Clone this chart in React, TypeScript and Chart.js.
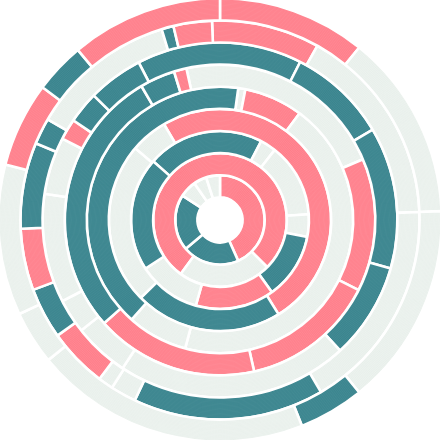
import React, { useEffect, useRef } from "react";
import { Chart, registerables } from "chart.js";

Chart.register(...registerables);

// Colour keys: P = pink, T = teal, L = light (remainder)
const BASE: Record<string, string> = {
  P: "#ff7b87",
  T: "#38838d",
  L: "#e7efea",
};
const STRIPE: Record<string, string> = {
  P: "rgba(255,190,196,0.35)",
  T: "rgba(110,168,175,0.35)",
  L: "rgba(250,252,251,0.45)",
};

// Start angle (degrees, clockwise from 12 o'clock) of each ring's first segment, outer → inner
const ringStarts = [0, 357.7, 332.7, 347.5, 7.9, 329.7, 311.3, 216, 0];

// Segment sizes in degrees, outer ring first
const ring1Values = [38.9, 48.8, 53.4, 17.2, 72.5, 14.1, 39.6, 22.3, 13.3, 39.9];
const ring1Kinds = ["P", "L", "L", "T", "L", "L", "L", "P", "T", "P"];

const ring2Values = [31.5, 58.5, 61.9, 55.7, 7.5, 4.4, 17.4, 14.9, 18, 25.1, 7.7, 42.7, 3.5, 11.2];
const ring2Kinds = ["P", "L", "L", "T", "L", "L", "P", "T", "P", "T", "T", "L", "T", "P"];

const ring3Values = [54.2, 32.5, 46.5, 31.5, 75.9, 18.2, 11.3, 35.7, 18.8, 6.9, 10.4, 18.1];
const ring3Kinds = ["T", "T", "T", "T", "L", "L", "L", "L", "L", "P", "T", "T"];

const ring4Values = [79.5, 49.8, 50.5, 61, 101.3, 13.2, 4.7];
const ring4Kinds = ["L", "P", "P", "P", "T", "T", "P"];

const ring5Values = [3.1, 25.7, 158.5, 26.4, 146.3];
const ring5Kinds = ["L", "P", "L", "L", "T"];

const ring6Values = [178.5, 77.3, 84.8, 19.4];
const ring6Kinds = ["P", "T", "L", "L"];

const ring7Values = [76.3, 10.4, 48.3, 14.7, 43.3, 51.5, 41.1, 74.4];
const ring7Kinds = ["T", "L", "L", "L", "T", "P", "L", "T"];

const ring8Values = [279, 81];
const ring8Kinds = ["P", "L"];

const ring9Values = [156, 74, 73, 22, 17, 18];
const ring9Kinds = ["P", "T", "T", "L", "L", "L"];

const ringValues = [ring1Values, ring2Values, ring3Values, ring4Values, ring5Values, ring6Values, ring7Values, ring8Values, ring9Values];
const ringKinds = [ring1Kinds, ring2Kinds, ring3Kinds, ring4Kinds, ring5Kinds, ring6Kinds, ring7Kinds, ring8Kinds, ring9Kinds];

const SIZE = 446;

function makePattern(ctx: CanvasRenderingContext2D, key: string, size: number, dpr: number) {
  const pc = document.createElement("canvas");
  const px = Math.round(size * dpr);
  pc.width = px;
  pc.height = px;
  const p = pc.getContext("2d");
  if (!p) return BASE[key];
  p.fillStyle = BASE[key];
  p.fillRect(0, 0, px, px);
  p.strokeStyle = STRIPE[key];
  p.lineWidth = 0.6 * dpr;
  const c = px / 2;
  for (let r = 1; r < px * 0.72; r += 1.25 * dpr) {
    p.beginPath();
    p.arc(c, c, r, 0, Math.PI * 2);
    p.stroke();
  }
  const pat = ctx.createPattern(pc, "no-repeat");
  if (pat && dpr !== 1 && (pat as any).setTransform) {
    (pat as any).setTransform(new DOMMatrix().scale(1 / dpr, 1 / dpr));
  }
  return pat || BASE[key];
}

export default function App() {
  const canvasRef = useRef<HTMLCanvasElement | null>(null);

  useEffect(() => {
    document.body.style.margin = "0";
    const canvas = canvasRef.current;
    if (!canvas) return;
    const ctx = canvas.getContext("2d");
    if (!ctx) return;
    const dpr = window.devicePixelRatio || 1;
    const fills: Record<string, any> = {
      P: makePattern(ctx, "P", SIZE, dpr),
      T: makePattern(ctx, "T", SIZE, dpr),
      L: makePattern(ctx, "L", SIZE, dpr),
    };
    const maxLen = Math.max(...ringValues.map((r) => r.length));
    const labels = Array.from({ length: maxLen }, (_, i) => `S${i + 1}`);
    const chart = new Chart(canvas, {
      type: "doughnut",
      data: {
        labels,
        datasets: ringValues.map((vals, i) => ({
          data: vals,
          backgroundColor: ringKinds[i].map((k) => fills[k]),
          borderColor: "#ffffff",
          borderWidth: 2.6,
          rotation: ringStarts[i],
        })),
      },
      options: {
        responsive: false,
        animation: false,
        cutout: "10.2%",
        layout: { padding: 0 },
        plugins: {
          legend: { display: false },
          tooltip: { enabled: false },
        },
        events: [],
      },
    });
    return () => chart.destroy();
  }, []);

  return (
    <div style={{ position: "absolute", left: 0, top: 0, width: 440, height: 440, overflow: "hidden", background: "#fff" }}>
      <canvas
        ref={canvasRef}
        width={SIZE}
        height={SIZE}
        style={{ position: "absolute", left: (440 - SIZE) / 2, top: (440 - SIZE) / 2, width: SIZE, height: SIZE }}
      />
    </div>
  );
}
